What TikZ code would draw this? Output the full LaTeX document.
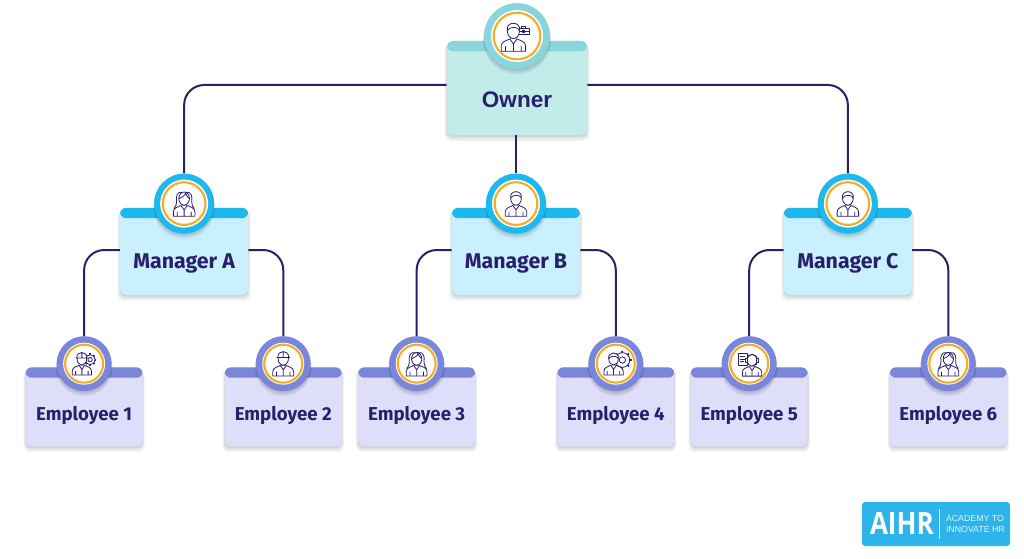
\documentclass[tikz,border=0pt]{standalone}
\usepackage{fontspec}
\setmainfont{Fira Sans}
\newfontfamily\ownerfont{Liberation Sans}
\newfontfamily\logofont[FakeStretch=.85]{Open Sans}
\usetikzlibrary{positioning, shadows}

\definecolor{navy}{HTML}{2A1F6B}
\definecolor{ownerfill}{HTML}{C2ECEA}
\definecolor{ownerband}{HTML}{8AD5DC}
\definecolor{mgrfill}{HTML}{C8F0FF}
\definecolor{mgrband}{HTML}{1DB9EE}
\definecolor{empfill}{HTML}{DEDDFA}
\definecolor{empband}{HTML}{7A86D9}
\definecolor{ringcol}{HTML}{F4AE25}
\definecolor{logocol}{HTML}{2DB4EA}

\tikzset{
	softshadow/.style={
		drop shadow={shadow xshift=0pt, shadow yshift=-3pt, shadow scale=1.035, opacity=.05, fill=black},
		drop shadow={shadow xshift=0pt, shadow yshift=-2.2pt, shadow scale=1.02, opacity=.06, fill=black},
		drop shadow={shadow xshift=0pt, shadow yshift=-1.2pt, shadow scale=1.005, opacity=.08, fill=black}},
	cardbox/.style 2 args={rectangle, rounded corners=4.5pt, inner sep=0pt, fill=#1, text=navy, font=\bfseries, softshadow,
		path picture={\fill[#2] (path picture bounding box.north west) rectangle ([yshift=-7.75pt]path picture bounding box.north east);}},
	ownerbox/.style={cardbox={ownerfill}{ownerband}, minimum width=105pt, text height=50.25pt, text depth=20.25pt, font=\ownerfont\bfseries\fontsize{16.9}{18}\selectfont},
	mgrbox/.style={cardbox={mgrfill}{mgrband}, minimum width=96pt, text height=45.75pt, text depth=19.5pt, font=\bfseries\fontsize{16}{18}\selectfont},
	empbox/.style={cardbox={empfill}{empband}, minimum width=87.75pt, text height=39.75pt, text depth=19.5pt, font=\bfseries\fontsize{14}{16}\selectfont},
	badge/.style n args={4}{circle, fill=#1, inner sep=0pt, minimum size=#2, softshadow,
		path picture={\fill[white] (path picture bounding box.center) circle (#3);
			\draw[ringcol, line width=1.6pt] (path picture bounding box.center) circle (#4);}},
	ownerbadge/.style={badge={ownerband}{49.5pt}{19.5pt}{17.5pt}},
	mgrbadge/.style={badge={mgrband}{45pt}{18pt}{16pt}},
	empbadge/.style={badge={empband}{41.25pt}{15.75pt}{14.25pt}},
	link/.style={draw=navy, line width=1.5pt, rounded corners=15pt},
	icon/.style={draw=navy, line width=.6pt, fill=white, line join=round},
	% head and shoulders, the rest of the icons are put on top of it
	bust/.pic={
		\draw[icon] (-8.5,-10) -- (-8.5,-6.5) .. controls (-8.5,-3) and (-4,-2.5) .. (-2.5,-1.5) -- (2.5,-1.5) .. controls (4,-2.5) and (8.5,-3) .. (8.5,-6.5) -- (8.5,-10) -- cycle;
		\draw[icon] (-2.5,-1.5) -- (0,-5) -- (2.5,-1.5) (0,-5) -- (0,-10) (-5.5,-10) -- (-5.5,-6.5) (5.5,-10) -- (5.5,-6.5);
		\draw[icon] (0,4) ellipse (4.2 and 5.2);
	},
	shorthair/.pic={
		\draw[icon] (-4.2,4.5) .. controls (-5.5,11) and (5.5,11) .. (4.2,4.5) .. controls (3,7) and (-2,7.5) .. (-4.2,4.5) -- cycle;
	},
	longhair/.pic={
		\draw[icon, fill=none] (-1,8.5) .. controls (-6,10.5) and (-6.5,5) .. (-6,2) .. controls (-6,-1) and (-7,-3) .. (-8,-4);
		\draw[icon, fill=none] (1,8.5) .. controls (6,10.5) and (6.5,5) .. (6,2) .. controls (6,-1) and (7,-3) .. (8,-4);
		\draw[icon, fill=none] (-4.2,4) .. controls (-2,5) and (1,6) .. (1,8.5) .. controls (1.5,6) and (3,5) .. (4.2,4);
	},
	hardhat/.pic={
		\draw[icon] (-5.5,5) -- (5.5,5) (-4.5,5) .. controls (-4.5,11.5) and (4.5,11.5) .. (4.5,5) -- cycle (0,5) -- (0,9.5);
	},
	gearicon/.pic={
		\foreach \a in {0,45,...,315} \draw[icon, line width=1.4pt] (\a:4.6) -- (\a:6.2);
		\draw[icon] (0,0) circle (5);
		\draw[icon] (0,0) circle (2.2);
	},
	headset/.pic={
		\draw[icon, fill=none] (-4.6,4) .. controls (-5,11) and (5,11) .. (4.6,4);
		\draw[icon] (-5.6,2.5) rectangle (-3.8,5.5) (3.8,2.5) rectangle (5.6,5.5);
		\draw[icon, fill=none] (4.7,2.5) .. controls (4.7,0) and (3,-.5) .. (1,-.5);
	},
	panel/.pic={
		\draw[icon] (-4.5,-6) rectangle (4.5,6);
		\draw[icon] (-2.5,2.5) -- (2.5,2.5) (-2.5,0) -- (2.5,0) (-2.5,-2.5) -- (1,-2.5);
	},
	briefcase/.pic={
		\draw[icon] (-2.5,3.5) rectangle (2.5,6);
		\draw[icon] (-6.5,-4.5) rectangle (6.5,3.5);
		\draw[icon] (-6.5,0) -- (6.5,0) (-1.2,-1) rectangle (1.2,1);
	}
}

\begin{document}
\begin{tikzpicture}[x=1pt, y=1pt]
	\useasboundingbox (0,0) rectangle (768,-419.25);

	\node[ownerbox						] (OWNER)	at (387.75,-66)	{Owner};
	\node[mgrbox, below=54.25pt of OWNER, xshift=-.75pt		] (MGR_B)	{Manager B};
	\node[mgrbox, left=152.5pt of MGR_B				] (MGR_A)	{Manager A};
	\node[mgrbox, right=152.5pt of MGR_B				] (MGR_C)	{Manager C};
	\node[empbox, below=54pt of MGR_A, xshift=-75pt			] (EMP_1)	{Employee 1};
	\node[empbox, right=61.2pt of EMP_1				] (EMP_2)	{Employee 2};
	\node[empbox, right=11.9pt of EMP_2				] (EMP_3)	{Employee 3};
	\node[empbox, right=61.2pt of EMP_3				] (EMP_4)	{Employee 4};
	\node[empbox, right=11.9pt of EMP_4				] (EMP_5)	{Employee 5};
	\node[empbox, right=61.2pt of EMP_5				] (EMP_6)	{Employee 6};

	\node[ownerbadge, yshift=3.5pt] (OWNER_BADGE) at (OWNER.north) {};
	\foreach \m in {A,B,C}
		\node[mgrbadge, yshift=3pt] (MGR_\m_BADGE) at (MGR_\m.north) {};
	\foreach \e in {1,...,6}
		\node[empbadge, yshift=2.6pt] (EMP_\e_BADGE) at (EMP_\e.north) {};

	% icons
	\pic[scale=.62, xshift=8pt, yshift=6pt] at (OWNER_BADGE) {briefcase};
	\pic[scale=1.08, xshift=-2.5pt, yshift=-.5pt] at (OWNER_BADGE) {bust};
	\pic[scale=1.08, xshift=-2.5pt, yshift=-.5pt] at (OWNER_BADGE) {shorthair};

	\pic[scale=.95] at (MGR_A_BADGE) {bust};
	\pic[scale=.95] at (MGR_A_BADGE) {longhair};
	\pic[scale=.95] at (MGR_B_BADGE) {bust};
	\pic[scale=.95] at (MGR_B_BADGE) {shorthair};
	\pic[scale=.95] at (MGR_C_BADGE) {bust};
	\pic[scale=.95] at (MGR_C_BADGE) {shorthair};

	\pic[scale=.75, xshift=6pt, yshift=4pt] at (EMP_1_BADGE) {gearicon};
	\pic[scale=.85, xshift=-2pt] at (EMP_1_BADGE) {bust};
	\pic[scale=.85, xshift=-2pt] at (EMP_1_BADGE) {hardhat};
	\pic[scale=.92] at (EMP_2_BADGE) {bust};
	\pic[scale=.92] at (EMP_2_BADGE) {hardhat};
	\pic[scale=.92] at (EMP_3_BADGE) {bust};
	\pic[scale=.92] at (EMP_3_BADGE) {longhair};
	\pic[scale=1.1, xshift=4.5pt, yshift=2.5pt] at (EMP_4_BADGE) {gearicon};
	\pic[scale=.85, xshift=-2pt] at (EMP_4_BADGE) {bust};
	\pic[scale=.85, xshift=-2pt] at (EMP_4_BADGE) {shorthair};
	\pic[scale=.75, xshift=-6.5pt, yshift=4.5pt] at (EMP_5_BADGE) {panel};
	\pic[scale=.85, xshift=2.5pt, yshift=-1pt] at (EMP_5_BADGE) {bust};
	\pic[scale=.85, xshift=2.5pt, yshift=-1pt] at (EMP_5_BADGE) {headset};
	\pic[scale=.92] at (EMP_6_BADGE) {bust};
	\pic[scale=.92] at (EMP_6_BADGE) {longhair};

	% connectors
	\draw[link] ([yshift=2.25pt]OWNER.west) -| (MGR_A_BADGE.north);
	\draw[link] ([yshift=2.25pt]OWNER.east) -| (MGR_C_BADGE.north);
	\draw[link] (OWNER.south -| MGR_B_BADGE.north) -- (MGR_B_BADGE.north);
	\draw[link] ([yshift=1pt]MGR_A.west) -| (EMP_1_BADGE.north);
	\draw[link] ([yshift=1pt]MGR_A.east) -| (EMP_2_BADGE.north);
	\draw[link] ([yshift=1pt]MGR_B.west) -| (EMP_3_BADGE.north);
	\draw[link] ([yshift=1pt]MGR_B.east) -| (EMP_4_BADGE.north);
	\draw[link] ([yshift=1pt]MGR_C.west) -| (EMP_5_BADGE.north);
	\draw[link] ([yshift=1pt]MGR_C.east) -| (EMP_6_BADGE.north);

	% logo
	\node[rectangle, rounded corners=2.25pt, fill=logocol, minimum width=111pt, minimum height=33pt, inner sep=0pt] (LOGO) at (702,-393) {};
	\node[right=6pt of LOGO.west, text=white, font=\logofont\bfseries\fontsize{23}{23}\selectfont, inner sep=0pt] (LOGO_NAME) {AIHR};
	\node[right=63pt of LOGO.west, text=white!85!logocol, font=\ownerfont\fontsize{6.6}{8}\selectfont, align=left, inner sep=0pt] (LOGO_TEXT) {ACADEMY TO\\INNOVATE HR};
	\coordinate[right=58.5pt of LOGO.west] (LOGO_BAR);
	\draw[white, line width=.6pt] ([yshift=11pt]LOGO_BAR) -- ([yshift=-11pt]LOGO_BAR);
\end{tikzpicture}
\end{document}
